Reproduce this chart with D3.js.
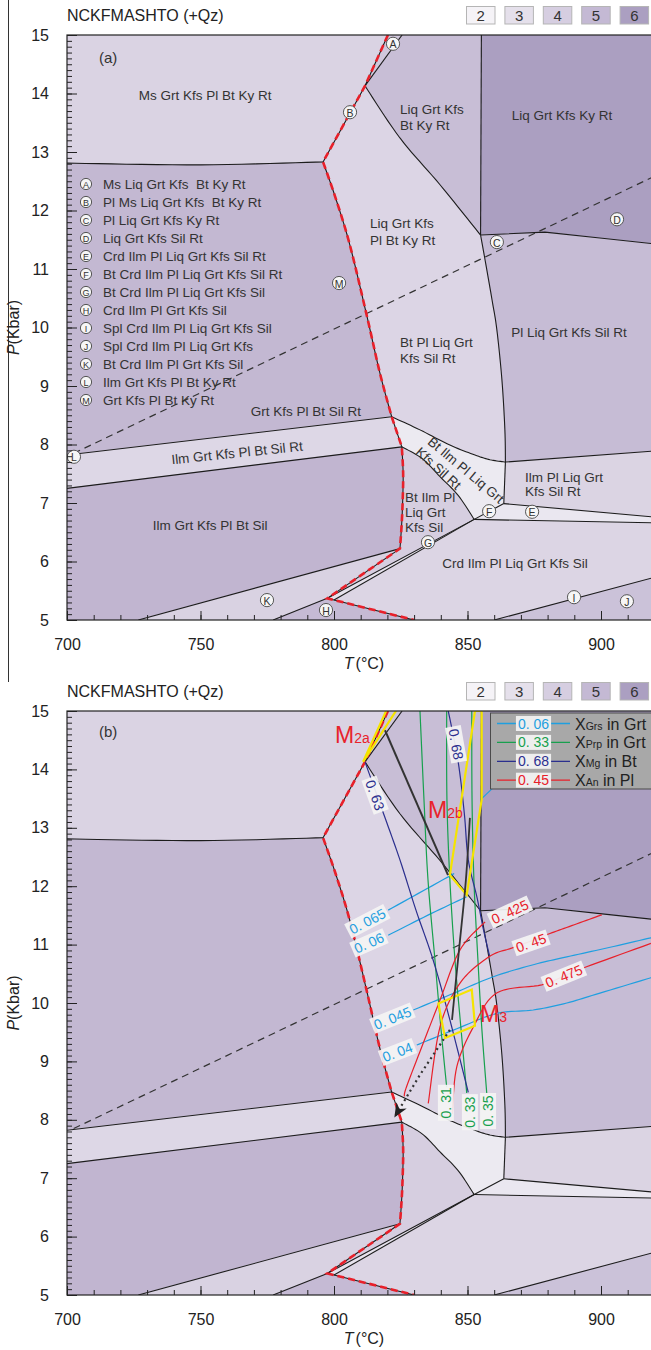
<!DOCTYPE html>
<html>
<head>
<meta charset="utf-8">
<script src="https://cdn.jsdelivr.net/npm/d3@7/dist/d3.min.js"></script>
<style>
  body { margin: 0; background: #fff; }
  svg { display: block; }
  text { font-family: "Liberation Sans", Arial, Helvetica, sans-serif; }
</style>
</head>
<body>
<script>
// ---------- axes ----------
const tempTicks = [700, 750, 800, 850, 900];
const presTicks = [5, 6, 7, 8, 9, 10, 11, 12, 13, 14, 15];
const tempDomain = [700, 920];
const presDomain = [5, 15];

// ---------- variance key ----------
const varianceLabels = ["2", "3", "4", "5", "6"];
const varianceColors = ["#f5f3f7", "#e5e0eb", "#d6cee1", "#c4b9d4", "#ab9fc1"];

// ---------- assemblage boundaries, [T (°C), P (kbar)] ----------
const bTopLeft   = [[700, 12.81], [750, 12.78], [795.9, 12.83]];
const bRedUpper  = [[795.9, 12.83], [811.6, 14.13], [820.2, 15]];
const bA2        = [[811.6, 14.13], [825.5, 15]];
const bN2NC      = [[811.6, 14.13], [824.7, 13.24], [839.7, 12.44], [854.9, 11.58]];
const bVert      = [[855.2, 15], [854.9, 11.58]];
const bRightUp   = [[854.9, 11.58], [879.0, 11.63], [899.6, 11.53], [920, 11.43]];
const bNCdown    = [[854.9, 11.58], [856.6, 11.15], [859.2, 10.47], [861.0, 9.96], [862.9, 9.10], [864.0, 8.25], [864.2, 7.70]];
const bNRNE      = [[864.2, 7.70], [863.6, 6.99]];
const bRightMid  = [[864.2, 7.70], [920, 7.89]];
const bRedMid    = [[795.9, 12.83], [800.7, 12.2], [806.0, 11.4], [812.4, 10.18], [817.2, 9.22], [821.6, 8.475]];
const bN3N4      = [[821.6, 8.475], [825.4, 7.96]];
const bRedLow    = [[825.4, 7.96], [825.9, 7.5], [825.7, 7.0], [825.3, 6.6], [824.7, 6.22]];
const bWedgeTop  = [[821.6, 8.475], [832.2, 8.25], [843.4, 7.99], [852.8, 7.82], [858.4, 7.74], [864.2, 7.70]];
const bWedgeBot  = [[825.4, 7.96], [833.0, 7.76], [839.7, 7.45], [846.5, 7.13], [852.5, 6.72]];
const bIlmTop    = [[700, 7.82], [821.6, 8.475]];
const bIlmBot    = [[700, 7.25], [825.4, 7.96]];
const bKTop      = [[726.7, 5], [824.7, 6.22]];
const bKBot      = [[777.2, 5], [797.5, 5.37]];
const bN5N6      = [[824.7, 6.22], [797.5, 5.37]];
const bRedBottom = [[797.5, 5.37], [800.0, 5.342], [830, 5]];
const bGUpper    = [[797.5, 5.37], [852.5, 6.72], [863.6, 6.99]];
const bGLower    = [[800.0, 5.342], [852.5, 6.72]];
const bEUpper    = [[863.6, 6.99], [920, 6.76]];
const bELower    = [[852.5, 6.72], [920, 6.66]];
const bIJ        = [[860, 5], [920, 5.73]];
const kySil      = [[702.5, 7.85], [920, 12.585]];

// ---------- field shading ----------
const fieldColors = {
  msGrt: "#dad3e3", aField: "#d0c7dc", liqBtKy: "#c8bed6", liqKy: "#ab9fc1",
  centre: "#dcd5e5", plSil: "#c6bcd5", grtKy: "#c3b8d2", ilmRt: "#ddd7e6",
  ilmSil: "#c1b5d0", kBand: "#d9d2e2", hField: "#c5bad4", crdSil: "#dcd5e4",
  jField: "#cbc2d9", gBand: "#e6e2ec", btIlmSil: "#d6cee0", wedge: "#eceaf1",
  ilmPlRt: "#dbd4e3", eBand: "#eae7f0"
};

// ---------- isopleths (panel b) ----------
const grsValues = ["0. 065", "0. 06", "0. 045", "0. 04"];
const xGrs065 = [[820.3, 11.59], [842.8, 12.16], [844.3, 12.2]];
const xGrs06  = [[820.3, 11.16], [835.0, 11.5], [849.7, 11.82]];
const xGrs045 = [[829.7, 9.88], [845.0, 10.17], [859.7, 10.45], [875.0, 10.66], [887.2, 10.79], [903.0, 10.95], [920, 11.13]];
const xGrs04  = [[831.0, 9.28], [846.0, 9.56], [860.9, 9.82], [874.6, 9.88], [887.2, 10.0], [899.6, 10.17], [920, 10.45]];
const xGrsKy  = [[855.3, 13.5], [868.0, 14.05]];

const prpValues = ["0. 31", "0. 33", "0. 35"];
const xPrp031 = [[832.2, 15], [833.7, 13.48], [835.2, 12.11], [837.8, 10.74], [840.1, 9.54], [842.2, 8.56]];
const xPrp033 = [[842.2, 15], [842.3, 13.48], [843.4, 12.11], [845.3, 10.74], [847.6, 9.54], [849.7, 8.46]];
const xPrp035 = [[851.6, 15], [851.7, 13.48], [852.4, 12.11], [853.9, 10.74], [855.4, 9.54], [857.2, 8.46]];

const mgValues = ["0. 68", "0. 63"];
const xMg068 = [[842.8, 15], [846.5, 14.13], [848.8, 13.25], [850.3, 12.45], [853.6, 11.8], [856.0, 11.25], [858.3, 10.8]];
const xMg063 = [[811.6, 14.13], [818.5, 13.25], [824.7, 12.45], [830.7, 11.59], [837.1, 10.74], [843.4, 9.71], [850.3, 8.47]];

const anValues = ["0. 425", "0. 45", "0. 475"];
const xAn0425 = [[856.6, 11.39], [847.2, 10.91], [839.7, 10.05], [833.4, 9.31], [827.2, 8.57], [826.3, 8.4]];
const xAn045  = [[900.3, 11.51], [890.0, 11.34], [880.9, 11.19], [873.8, 11.06], [866.5, 10.94], [858.0, 10.79], [847.2, 10.34], [839.7, 9.59], [835.3, 8.28]];
const xAn0475 = [[918.7, 11.02], [894.6, 10.62], [886.1, 10.46], [877.8, 10.31], [860.9, 10.17], [852.2, 9.59], [846.0, 8.91], [844.3, 8.1]];

// ---------- metamorphic stages and P–T path ----------
const stageM2a = [[810.9, 14.13], [821.5, 15.2], [826.0, 15.2]];
const stageM2b = [[852.8, 15.0], [855.3, 15.0], [855.3, 13.48], [849.7, 11.85], [843.4, 12.19]];
const stageM3  = [[839.1, 9.99], [851.6, 10.23], [852.8, 9.61], [841.6, 9.40]];
const pathM2aM2b = [[819.1, 14.67], [842.7, 12.19]];
const pathM2bM3  = [[850.9, 13.17], [849.4, 12.11], [847.2, 11.08], [845.3, 10.22], [844.2, 9.71]];
const pathRetro  = [[843.4, 9.54], [832.2, 8.77], [822.6, 8.04]];

// ---------- labelled fields (panel a) ----------
const keyLetters = ["A", "B", "C", "D", "E", "F", "G", "H", "I", "J", "K", "L", "M"];
const keyTexts = [
  "Ms Liq Grt Kfs  Bt Ky Rt", "Pl Ms Liq Grt Kfs  Bt Ky Rt", "Pl Liq Grt Kfs Ky Rt",
  "Liq Grt Kfs Sil Rt", "Crd Ilm Pl Liq Grt Kfs Sil Rt", "Bt Crd Ilm Pl Liq Grt Kfs Sil Rt",
  "Bt Crd Ilm Pl Liq Grt Kfs Sil", "Crd Ilm Pl Grt Kfs Sil", "Spl Crd Ilm Pl Liq Grt Kfs Sil",
  "Spl Crd Ilm Pl Liq Grt Kfs", "Bt Crd Ilm Pl Grt Kfs Sil", "Ilm Grt Kfs Pl Bt Ky Rt",
  "Grt Kfs Pl Bt Ky Rt"
];
const keyAt = [[822.1, 14.85], [806.0, 13.68], [861.0, 11.46], [906.0, 11.85], [874.2, 6.85],
  [858.1, 6.86], [835.2, 6.33], [797.0, 5.17], [889.9, 5.39], [909.7, 5.32], [774.9, 5.34],
  [702.6, 7.79], [801.9, 10.76]];

// ---------- helpers ----------
function smooth(pts, n = 10) {
  if (pts.length < 3) return pts.map(p => p.slice());
  const out = [];
  for (let i = 0; i < pts.length - 1; i++) {
    const p0 = pts[Math.max(0, i - 1)], p1 = pts[i], p2 = pts[i + 1], p3 = pts[Math.min(pts.length - 1, i + 2)];
    for (let k = 0; k < n; k++) {
      const t = k / n, t2 = t * t, t3 = t2 * t;
      out.push([0, 1].map(j => 0.5 * (2 * p1[j] + (-p0[j] + p2[j]) * t +
        (2 * p0[j] - 5 * p1[j] + 4 * p2[j] - p3[j]) * t2 + (-p0[j] + 3 * p1[j] - 3 * p2[j] + p3[j]) * t3)));
    }
  }
  out.push(pts[pts.length - 1].slice());
  return out;
}
const rev = a => a.slice().reverse();

const sTopLeft = smooth(bTopLeft), sN2NC = smooth(bN2NC), sNCdown = smooth(bNCdown),
      sRedMid = smooth(bRedMid), sRedLow = smooth(bRedLow),
      sWedgeTop = smooth(bWedgeTop), sWedgeBot = smooth(bWedgeBot);
const NF = bGUpper[1];

const fields = [
  [fieldColors.msGrt,   [[700, 15], ...rev(bRedUpper), ...rev(sTopLeft)]],
  [fieldColors.aField,  [bRedUpper[1], bRedUpper[2], bA2[1]]],
  [fieldColors.liqBtKy, [bA2[1], ...bVert, ...rev(sN2NC)]],
  [fieldColors.liqKy,   [bVert[0], [920, 15], ...rev(bRightUp)]],
  [fieldColors.centre,  [...sN2NC, ...sNCdown, ...rev(sWedgeTop), ...rev(sRedMid), bRedUpper[1]]],
  [fieldColors.plSil,   [...bRightUp, ...rev(bRightMid), ...rev(sNCdown)]],
  [fieldColors.grtKy,   [...sTopLeft, ...sRedMid, ...rev(bIlmTop)]],
  [fieldColors.ilmRt,   [...bIlmTop, ...bN3N4, ...rev(bIlmBot)]],
  [fieldColors.ilmSil,  [...bIlmBot, ...sRedLow, ...rev(bKTop), [700, 5]]],
  [fieldColors.kBand,   [...bKTop, ...bN5N6, ...rev(bKBot)]],
  [fieldColors.hField,  [...bKBot, ...bRedBottom]],
  [fieldColors.crdSil,  [bRedBottom[2], bRedBottom[1], ...bGLower, ...bELower, ...rev(bIJ)]],
  [fieldColors.jField,  [...bIJ, [920, 5]]],
  [fieldColors.gBand,   [bGUpper[0], NF, ...rev(bGLower)]],
  [fieldColors.btIlmSil,[...sRedLow, ...bN5N6, NF, ...rev(sWedgeBot)]],
  [fieldColors.wedge,   [...sWedgeTop, ...bNRNE, NF, ...rev(sWedgeBot)]],
  [fieldColors.ilmPlRt, [...bRightMid, ...rev(bEUpper), ...rev(bNRNE)]],
  [fieldColors.eBand,   [NF, ...bEUpper, ...rev(bELower)]]
];

const boundaries = [sTopLeft, bRedUpper, bA2, sN2NC, bVert, bRightUp, sNCdown, bNRNE, bRightMid,
  sRedMid, bN3N4, sRedLow, sWedgeTop, sWedgeBot, bIlmTop, bIlmBot, bKTop, bKBot, bN5N6,
  bRedBottom, bGUpper, bGLower, bEUpper, bELower, bIJ];

const solidusPath = [...rev(bRedUpper), ...sRedMid.slice(1), ...bN3N4.slice(1), ...sRedLow.slice(1),
  ...bN5N6.slice(1), ...bRedBottom.slice(1)];

// ---------- drawing ----------
const W = 651, H = 1350;
const svg = d3.select("body").append("svg").attr("width", W).attr("height", H);
const x = d3.scaleLinear().domain([700, 900]).range([67, 601]);
const INK = "#222";
const C = { grs: "#1f9fe0", prp: "#17a04e", mg: "#2b2f8e", an: "#e8202a" };

// frame rule along the left of the upper figure
svg.append("line").attr("x1", 8.5).attr("x2", 8.5).attr("y1", 0).attr("y2", 682)
  .attr("stroke", "#333").attr("stroke-width", 1);

const panels = [
  { id: "a", top: 35, bottom: 620, head: 0, tag: "(a)" },
  { id: "b", top: 711, bottom: 1295, head: 676, tag: "(b)" }
];

panels.forEach(p => {
  const y = d3.scaleLinear().domain(presDomain).range([p.bottom, p.top]);
  const line = d3.line().x(d => x(d[0])).y(d => y(d[1]));
  const g = svg.append("g");

  // header: system name and variance key
  g.append("text").attr("x", 67).attr("y", p.head + 21).attr("font-size", 16).attr("fill", INK)
    .text("NCKFMASHTO (+Qz)");
  const key = g.append("g");
  varianceLabels.forEach((v, i) => {
    const bx = 466.5 + i * 38.4;
    key.append("rect").attr("x", bx).attr("y", p.head + 6.5).attr("width", 28.5).attr("height", 17.5)
      .attr("fill", varianceColors[i]).attr("stroke", "#b5b5b5").attr("stroke-width", 1);
    key.append("text").attr("x", bx + 14.25).attr("y", p.head + 21).attr("text-anchor", "middle")
      .attr("font-size", 15).attr("fill", "#333").text(v);
  });

  // plot area
  const clipId = "clip-" + p.id;
  svg.append("clipPath").attr("id", clipId).append("rect")
    .attr("x", x(700)).attr("y", p.top).attr("width", x(tempDomain[1]) - x(700)).attr("height", p.bottom - p.top);
  const plot = g.append("g").attr("clip-path", `url(#${clipId})`);

  fields.forEach(([fill, pts]) => {
    plot.append("path").attr("d", line(pts) + "Z").attr("fill", fill)
      .attr("stroke", fill).attr("stroke-width", 0.6);
  });

  // key to the small numbered fields (panel a only)
  if (p.id === "a") {
    keyLetters.forEach((L, i) => {
      const cy = 184 + i * 18;
      plot.append("circle").attr("cx", 86).attr("cy", cy).attr("r", 5.6)
        .attr("fill", "#f6f6f6").attr("stroke", "#555").attr("stroke-width", 1);
      plot.append("text").attr("x", 86).attr("y", cy + 0.5).attr("text-anchor", "middle")
        .attr("dominant-baseline", "central").attr("font-size", 9).attr("fill", "#333").text(L);
      plot.append("text").attr("x", 103).attr("y", cy).attr("dominant-baseline", "central")
        .attr("font-size", 13.5).attr("fill", "#333").style("white-space", "pre").text(keyTexts[i]);
    });
  }

  boundaries.forEach(b => {
    plot.append("path").attr("d", line(b)).attr("fill", "none")
      .attr("stroke", "#1c1c1c").attr("stroke-width", 1.1);
  });
  plot.append("path").attr("d", line(kySil)).attr("fill", "none")
    .attr("stroke", "#333").attr("stroke-width", 1.2).attr("stroke-dasharray", "7,5");
  plot.append("path").attr("d", line(solidusPath)).attr("fill", "none")
    .attr("stroke", "#e8202a").attr("stroke-width", 2.6).attr("stroke-dasharray", "7,4");

  if (p.id === "a") {
    // assemblage labels
    const lab = (txt, at, anchor, dy = 0, rot = 0, fs = 13.5) => {
      plot.append("text").attr("font-size", fs).attr("fill", "#333")
        .attr("text-anchor", anchor).attr("dominant-baseline", "central")
        .attr("transform", `translate(${x(at[0])},${y(at[1]) + dy}) rotate(${rot})`)
        .text(txt);
    };
    const multi = (lines, at, anchor, step) => lines.forEach((s, i) => lab(s, at, anchor, i * step));
    lab("(a)", [715.4, 14.62], "middle", 0, 0, 15);
    lab("Ms Grt Kfs Pl Bt Ky Rt", [751.7, 13.96], "middle");
    multi(["Liq Grt Kfs", "Bt Ky Rt"], [824.7, 13.72], "start", 16);
    lab("Liq Grt Kfs Ky Rt", [885.4, 13.62], "middle");
    multi(["Liq Grt Kfs", "Pl Bt Ky Rt"], [813.5, 11.77], "start", 17);
    lab("Pl Liq Grt Kfs Sil Rt", [888, 9.92], "middle");
    multi(["Bt Pl Liq Grt", "Kfs Sil Rt"], [824.7, 9.75], "start", 16);
    lab("Grt Kfs Pl Bt Sil Rt", [789.5, 8.57], "middle");
    lab("Ilm Grt Kfs Pl Bt Sil Rt", [763.7, 7.855], "middle", 0, -6);
    lab("Ilm Grt Kfs Pl Bt Sil", [753.6, 6.61], "middle");
    lab("Bt Ilm Pl Liq Grt", [849.4, 7.56], "middle", 0, 40);
    lab("Kfs Sil Rt", [839.1, 7.59], "middle", 0, 42);
    multi(["Bt Ilm Pl", "Liq Grt", "Kfs Sil"], [826.6, 7.10], "start", 15);
    multi(["Ilm Pl Liq Grt", "Kfs Sil Rt"], [871.5, 7.43], "start", 14);
    lab("Crd Ilm Pl Liq Grt Kfs Sil", [867.8, 5.97], "middle");

    keyLetters.forEach((L, i) => {
      const cx = x(keyAt[i][0]), cy = y(keyAt[i][1]);
      plot.append("circle").attr("cx", cx).attr("cy", cy).attr("r", 6.6)
        .attr("fill", "#f6f6f6").attr("stroke", "#555").attr("stroke-width", 1);
      plot.append("text").attr("x", cx).attr("y", cy + 0.5).attr("text-anchor", "middle")
        .attr("dominant-baseline", "central").attr("font-size", 10.5).attr("fill", "#333").text(L);
    });
  } else {
    plot.append("text").attr("x", x(715.4)).attr("y", y(14.62) - 2).attr("text-anchor", "middle")
      .attr("dominant-baseline", "central").attr("font-size", 15).attr("fill", "#333").text("(b)");

    const iso = d3.line().x(d => x(d[0])).y(d => y(d[1]));
    const drawIso = (pts, color) => plot.append("path").attr("d", iso(smooth(pts))).attr("fill", "none")
      .attr("stroke", color).attr("stroke-width", 1.2);
    [xGrs065, xGrs06, xGrs045, xGrs04, xGrsKy].forEach(s => drawIso(s, C.grs));
    [xPrp031, xPrp033, xPrp035].forEach(s => drawIso(s, C.prp));
    [xMg068, xMg063].forEach(s => drawIso(s, C.mg));
    [xAn0425, xAn045, xAn0475].forEach(s => drawIso(s, C.an));

    // assemblage boxes for each stage
    [stageM2a, stageM2b, stageM3].forEach(s => {
      plot.append("path").attr("d", line(s) + "Z").attr("fill", "none")
        .attr("stroke", "#f5e400").attr("stroke-width", 2.2).attr("stroke-linejoin", "miter");
    });

    // P–T path
    plot.append("path").attr("d", line(pathM2aM2b)).attr("fill", "none")
      .attr("stroke", "#333").attr("stroke-width", 2);
    plot.append("path").attr("d", line(smooth(pathM2bM3))).attr("fill", "none")
      .attr("stroke", "#333").attr("stroke-width", 1.8);
    plot.append("path").attr("d", line(pathRetro)).attr("fill", "none")
      .attr("stroke", "#333").attr("stroke-width", 2.2).attr("stroke-dasharray", "2,3.5");
    {
      const a = pathRetro[pathRetro.length - 2], b = pathRetro[pathRetro.length - 1];
      const tx = x(b[0]), ty = y(b[1]);
      const ang = Math.atan2(ty - y(a[1]), tx - x(a[0])) * 180 / Math.PI;
      plot.append("path").attr("d", "M0,0 L-14,-6 L-10,0 L-14,6 Z").attr("fill", "#222")
        .attr("transform", `translate(${tx},${ty}) rotate(${ang})`);
    }

    // isopleth value tags
    const tag = (txt, at, rot, color) => {
      const gg = plot.append("g").attr("transform", `translate(${x(at[0])},${y(at[1])}) rotate(${rot})`);
      const t = gg.append("text").attr("text-anchor", "middle").attr("dominant-baseline", "central")
        .attr("font-size", 14).attr("fill", color).text(txt);
      const w = t.node().getComputedTextLength();
      gg.insert("rect", "text").attr("x", -w / 2 - 2.5).attr("y", -8).attr("width", w + 5).attr("height", 16)
        .attr("fill", "#f4f4f4").attr("opacity", 0.92);
    };
    const grsTagAt = [[812.5, 11.40, -27.5], [813.1, 11.03, -23.5], [821.9, 9.74, -22], [823.8, 9.16, -21]];
    const prpTagAt = [[841.9, 8.29, -90], [850.9, 8.13, -90], [857.7, 8.15, -90]];
    const mgTagAt  = [[845.7, 14.43, 80], [815.4, 13.56, 70]];
    const anTagAt  = [[865.9, 11.56, -24.7], [873.8, 11.03, -19], [886.1, 10.46, -22]];
    grsValues.forEach((v, i) => tag(v, grsTagAt[i], grsTagAt[i][2], C.grs));
    prpValues.forEach((v, i) => tag(v, prpTagAt[i], prpTagAt[i][2], C.prp));
    mgValues.forEach((v, i) => tag(v, mgTagAt[i], mgTagAt[i][2], C.mg));
    anValues.forEach((v, i) => tag(v, anTagAt[i], anTagAt[i][2], C.an));

    // stage names
    const stage = (main, sub, at) => {
      const t = plot.append("text").attr("x", x(at[0])).attr("y", y(at[1])).attr("fill", "#e8232b");
      t.append("tspan").attr("font-size", 23).text(main);
      t.append("tspan").attr("font-size", 14).text(sub);
    };
    stage("M", "2a", [800.4, 14.45]);
    stage("M", "2b", [835.2, 13.17]);
    stage("M", "3", [854.7, 9.67]);

    // isopleth key
    const lg = g.append("g");
    lg.append("rect").attr("x", 490.5).attr("y", 713).attr("width", 170).attr("height", 76)
      .attr("fill", "#a8a8a8").attr("stroke", "#4a4a4a").attr("stroke-width", 1);
    const keyRows = [
      { c: C.grs, v: "0. 06", s: "Grs", h: " in Grt" },
      { c: C.prp, v: "0. 33", s: "Prp", h: " in Grt" },
      { c: C.mg,  v: "0. 68", s: "Mg",  h: " in Bt" },
      { c: C.an,  v: "0. 45", s: "An",  h: " in Pl" }
    ];
    keyRows.forEach((r, i) => {
      const cy = 723.5 + i * 18.9;
      lg.append("line").attr("x1", 497).attr("x2", 570).attr("y1", cy).attr("y2", cy)
        .attr("stroke", r.c).attr("stroke-width", 1.3);
      const t = lg.append("text").attr("x", 533.5).attr("y", cy).attr("text-anchor", "middle")
        .attr("dominant-baseline", "central").attr("font-size", 14).attr("fill", r.c).text(r.v);
      const w = t.node().getComputedTextLength();
      lg.insert("rect", () => t.node()).attr("x", 533.5 - w / 2 - 2).attr("y", cy - 7.5)
        .attr("width", w + 4).attr("height", 15).attr("fill", "#eeeeee");
      const lt = lg.append("text").attr("x", 575).attr("y", cy + 6).attr("fill", "#222");
      lt.append("tspan").attr("font-size", 16).text("X");
      lt.append("tspan").attr("font-size", 10.5).text(r.s);
      lt.append("tspan").attr("font-size", 16).text(r.h);
    });
  }

  // frame and axes
  g.append("rect").attr("x", 67).attr("y", p.top).attr("width", 600).attr("height", p.bottom - p.top)
    .attr("fill", "none").attr("stroke", INK).attr("stroke-width", 1.2);

  const yMinor = d3.axisLeft(y).tickValues(d3.range(50, 151).map(v => v / 10)).tickSize(-5).tickFormat("");
  const yMajor = d3.axisLeft(y).tickValues(presTicks).tickSize(-10).tickPadding(18).tickFormat(d3.format("d"));
  const xMinor = d3.axisBottom(x).tickValues(d3.range(700, 921, 10)).tickSize(-5).tickFormat("");
  const xMajor = d3.axisBottom(x).tickValues(tempTicks).tickSize(-9).tickPadding(19).tickFormat(d3.format("d"));
  const style = sel => {
    sel.select(".domain").remove();
    sel.selectAll("line").attr("stroke", INK).attr("stroke-width", 1);
    sel.selectAll("text").attr("font-size", 16).attr("fill", INK)
      .attr("font-family", '"Liberation Sans", Arial, sans-serif');
  };
  g.append("g").attr("transform", `translate(${x(700)},0)`).call(yMinor).call(style);
  g.append("g").attr("transform", `translate(${x(700)},0)`).call(yMajor).call(style);
  g.append("g").attr("transform", `translate(0,${p.bottom})`).call(xMinor).call(style);
  g.append("g").attr("transform", `translate(0,${p.bottom})`).call(xMajor).call(style);

  // axis titles
  const yt = g.append("text").attr("transform", `translate(19,${(p.top + p.bottom) / 2}) rotate(-90)`)
    .attr("text-anchor", "middle").attr("font-size", 16).attr("fill", INK);
  yt.append("tspan").attr("font-style", "italic").text("P");
  yt.append("tspan").text("(Kbar)");
  const xt = g.append("text").attr("x", 364).attr("y", p.bottom + 49).attr("text-anchor", "middle")
    .attr("font-size", 16).attr("fill", INK);
  xt.append("tspan").attr("font-style", "italic").text("T");
  xt.append("tspan").attr("dx", 2).text("(°C)");
});
</script>
</body>
</html>
